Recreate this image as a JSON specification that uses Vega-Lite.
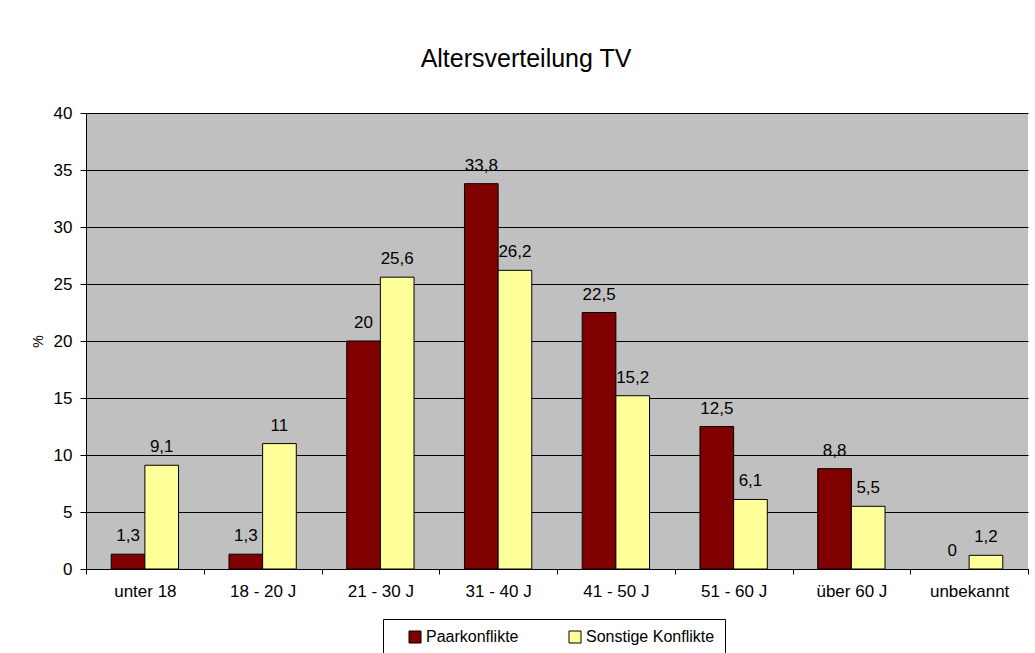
{
  "$schema": "https://vega.github.io/schema/vega-lite/v6.json",
  "autosize": "none",
  "width": 942,
  "height": 456,
  "padding": {"left": 86, "top": 113, "right": 7, "bottom": 84},
  "background": "white",
  "config": {
    "locale": {"number": {"decimal": ",", "thousands": ".", "grouping": [3], "currency": ["", " €"]}},
    "font": "Liberation Sans",
    "view": {"fill": "#C0C0C0", "stroke": null},
    "axis": {"labelColor": "black", "titleColor": "black", "domainColor": "black", "tickColor": "black", "labelFont": "Liberation Sans", "titleFont": "Liberation Sans"}
  },
  "title": {"text": "Altersverteilung TV", "fontSize": 25, "fontWeight": "normal", "font": "Liberation Sans", "color": "black", "anchor": "middle", "frame": "group", "dx": -31, "offset": 32},
  "data": {
    "values": [
      {"Alter": "unter 18", "Gruppe": "Paarkonflikte", "Wert": 1.3},
      {"Alter": "unter 18", "Gruppe": "Sonstige Konflikte", "Wert": 9.1},
      {"Alter": "18 - 20 J", "Gruppe": "Paarkonflikte", "Wert": 1.3},
      {"Alter": "18 - 20 J", "Gruppe": "Sonstige Konflikte", "Wert": 11},
      {"Alter": "21 - 30 J", "Gruppe": "Paarkonflikte", "Wert": 20},
      {"Alter": "21 - 30 J", "Gruppe": "Sonstige Konflikte", "Wert": 25.6},
      {"Alter": "31 - 40 J", "Gruppe": "Paarkonflikte", "Wert": 33.8},
      {"Alter": "31 - 40 J", "Gruppe": "Sonstige Konflikte", "Wert": 26.2},
      {"Alter": "41 - 50 J", "Gruppe": "Paarkonflikte", "Wert": 22.5},
      {"Alter": "41 - 50 J", "Gruppe": "Sonstige Konflikte", "Wert": 15.2},
      {"Alter": "51 - 60 J", "Gruppe": "Paarkonflikte", "Wert": 12.5},
      {"Alter": "51 - 60 J", "Gruppe": "Sonstige Konflikte", "Wert": 6.1},
      {"Alter": "über 60 J", "Gruppe": "Paarkonflikte", "Wert": 8.8},
      {"Alter": "über 60 J", "Gruppe": "Sonstige Konflikte", "Wert": 5.5},
      {"Alter": "unbekannt", "Gruppe": "Paarkonflikte", "Wert": 0},
      {"Alter": "unbekannt", "Gruppe": "Sonstige Konflikte", "Wert": 1.2}
    ]
  },
  "encoding": {
    "x": {
      "field": "Alter", "type": "nominal", "sort": null,
      "scale": {"paddingInner": 0, "paddingOuter": 0},
      "axis": {"title": null, "labelAngle": 0, "tickBand": "extent", "tickSize": 5, "labelFontSize": 17, "labelPadding": 9, "grid": false}
    },
    "xOffset": {
      "field": "Gruppe", "type": "nominal", "sort": ["Paarkonflikte", "Sonstige Konflikte"],
      "scale": {"paddingInner": 0, "paddingOuter": 0.75}
    },
    "y": {
      "field": "Wert", "type": "quantitative",
      "scale": {"domain": [0, 40], "nice": false},
      "axis": {"title": "%", "values": [0, 5, 10, 15, 20, 25, 30, 35, 40], "grid": true, "gridColor": "black", "gridOpacity": 1, "gridWidth": 1, "tickSize": 6, "labelFontSize": 17, "labelPadding": 8, "titleFontSize": 14, "titleFontWeight": "normal", "titlePadding": 8}
    }
  },
  "layer": [
    {
      "transform": [{"filter": "datum.Wert > 0"}],
      "mark": {"type": "bar", "stroke": "black", "strokeWidth": 1},
      "encoding": {
        "color": {
          "field": "Gruppe", "type": "nominal",
          "scale": {"domain": ["Paarkonflikte", "Sonstige Konflikte"], "range": ["#800000", "#FFFF99"]},
          "legend": {"orient": "none", "legendX": 297, "legendY": 506, "direction": "horizontal", "title": null, "strokeColor": "black", "fillColor": "white", "padding": 10, "symbolType": "square", "symbolSize": 144, "symbolStrokeColor": "black", "symbolStrokeWidth": 1, "symbolOpacity": 1, "labelFontSize": 16, "labelColor": "black", "labelFont": "Liberation Sans", "columnPadding": 34, "labelOffset": 3, "symbolOffset": 14}
        }
      }
    },
    {
      "mark": {"type": "text", "baseline": "alphabetic", "dy": -13, "fontSize": 17, "color": "black", "font": "Liberation Sans"},
      "encoding": {
        "text": {"field": "Wert", "type": "quantitative", "format": ".1~f"}
      }
    }
  ]
}
